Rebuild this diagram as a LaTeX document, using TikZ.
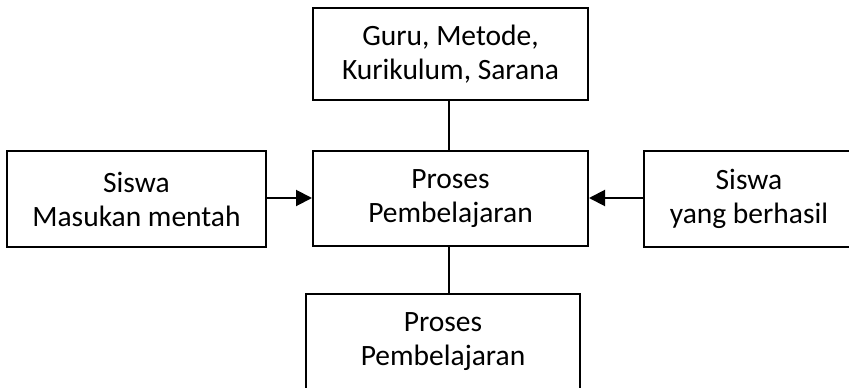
\documentclass[tikz,border=0pt]{standalone}
\usepackage{fontspec}
\setmainfont{Carlito}
\usetikzlibrary{arrows.meta}
\tikzset{
  box/.style={draw=black, line width=2pt, fill=white, align=center,
    inner sep=0pt, font=\fontsize{29.5}{34}\selectfont},
  conn/.style={draw=black, line width=2pt},
  arr/.style={conn, -{Triangle[length=16pt,width=16pt]}}
}
\begin{document}
\begin{tikzpicture}[x=1pt,y=-1pt]
\path[use as bounding box, clip] (0,0) rectangle (849,388);
\fill[white] (0,0) rectangle (849,388);
\node[box, minimum width=275pt, minimum height=95pt] (proc) at (450.5,198.5) {Proses\\Pembelajaran};
\node[box, minimum width=275pt, minimum height=92pt] (top) at (450.5,54) {Guru, Metode,\\Kurikulum, Sarana};
\node[box, minimum width=259pt, minimum height=96pt] (left) at (136.5,199) {Siswa\\Masukan mentah};
\node[box, minimum width=210pt, minimum height=96pt] (right) at (749,199) {Siswa\\yang berhasil};
\node[box, minimum width=274pt, minimum height=96pt] (bot) at (443,342) {Proses\\Pembelajaran};
\draw[conn] ([xshift=-2pt]top.south) -- ([xshift=-2pt]proc.north);
\draw[conn] ([xshift=-1.5pt]proc.south) -- ([xshift=-1.5pt]proc.south |- bot.north);
\draw[arr] ([yshift=1pt]left.east) -- ([yshift=1pt]left.east -| proc.west);
\draw[arr] ([yshift=1pt]right.west) -- ([yshift=1pt]right.west -| proc.east);
\end{tikzpicture}
\end{document}
